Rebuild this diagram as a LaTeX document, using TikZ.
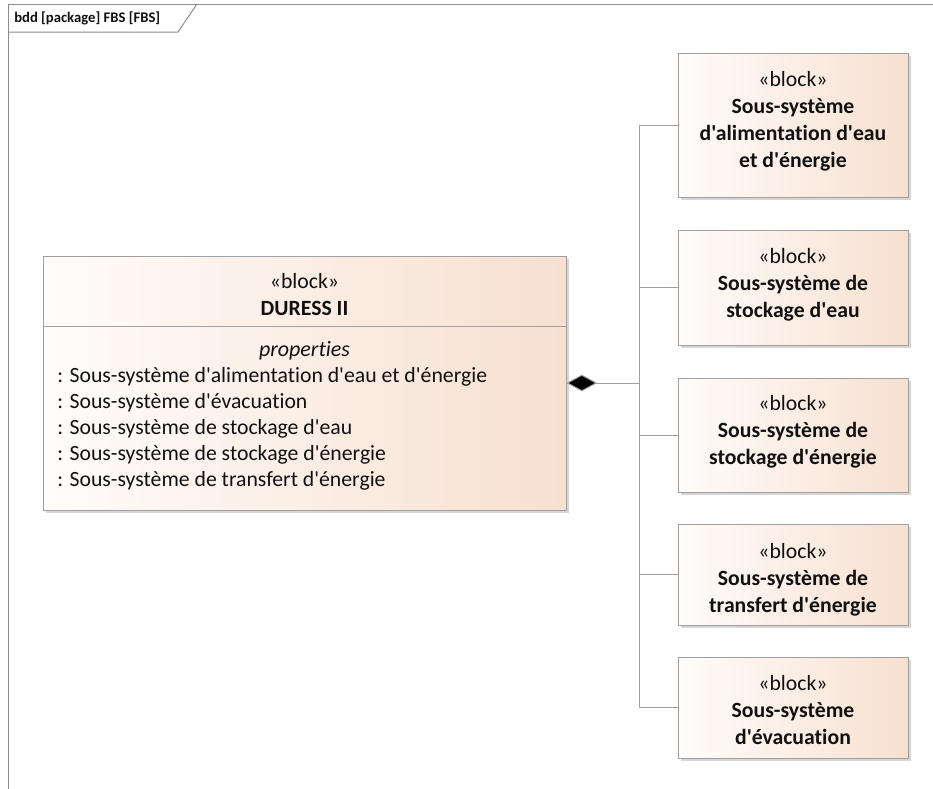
\documentclass[tikz,border=0pt]{standalone}
\usepackage{fontspec}
\setmainfont[Ligatures={TeXOff,NoCommon}]{Carlito}
\usetikzlibrary{arrows.meta,shadows}
\definecolor{blkL}{HTML}{FFFCFA}
\definecolor{blkR}{HTML}{F7E0D0}
\definecolor{edge}{HTML}{A0A0A0}
\definecolor{wire}{HTML}{A0A0A0}
\definecolor{frm}{HTML}{8C8C8C}
\definecolor{ink}{HTML}{111111}
\begin{document}
\begin{tikzpicture}[x=0.75pt,y=-0.75pt,
  blk/.style={draw=edge, line width=0.75pt, left color=blkL, right color=blkR,
    drop shadow={shadow xshift=2.5pt, shadow yshift=-2.5pt, fill=black!16, opacity=1},
    inner sep=0pt, minimum width=172.5pt},
  txt/.style={inner sep=0pt, align=center, text=ink, font=\fontsize{16.3}{20.25}\selectfont},
  wirestyle/.style={draw=wire, line width=0.75pt},
  frame/.style={draw=frm, line width=0.75pt}]
\useasboundingbox (0,0) rectangle (933,789);
% frame
\draw[frame] (8,789) -- (8,4) -- (933,4);
\draw[frame] (8,32) -- (178,32) -- (197,4);
\node[inner sep=0pt, anchor=west, text=ink, font=\fontsize{11}{13}\selectfont\bfseries] (title) at (14,18) {bdd [package] FBS [FBS]};
% main block
\node[blk, minimum width=392.25pt, minimum height=190.5pt] (main) at (304.5,383) {};
\draw[draw=edge, line width=0.75pt] (main.west |- 0,326) coordinate (dl) -- (main.east |- 0,326) coordinate (dr);
\node[txt, anchor=north] (mainhead) at (304.5,273) {«block»\\\textbf{DURESS II}};
\node[txt, anchor=north, font=\fontsize{16.5}{19.5}\selectfont\itshape] (props) at (304.5,341.5) {properties};
\node[txt, anchor=north west, align=left, font=\fontsize{16.3}{19.5}\selectfont] (plist) at (57,367) {%
: Sous-système d'alimentation d'eau et d'énergie\\
: Sous-système d'évacuation\\
: Sous-système de stockage d'eau\\
: Sous-système de stockage d'énergie\\
: Sous-système de transfert d'énergie};
% right blocks
\node[blk, minimum height=108pt] (b1) at (793,125) {};
\node[blk, minimum height=86.25pt] (b2) at (793,287.5) {};
\node[blk, minimum height=85.5pt] (b3) at (793,435) {};
\node[blk, minimum height=75.75pt] (b4) at (793,574.5) {};
\node[blk, minimum height=75.75pt] (b5) at (793,707.5) {};
\node[txt, anchor=north] (t1) at (793,71) {«block»\\\textbf{Sous-système}\\\textbf{d'alimentation d'eau}\\\textbf{et d'énergie}};
\node[txt, anchor=north] (t2) at (793,248) {«block»\\\textbf{Sous-système de}\\\textbf{stockage d'eau}};
\node[txt, anchor=north] (t3) at (793,395) {«block»\\\textbf{Sous-système de}\\\textbf{stockage d'énergie}};
\node[txt, anchor=north] (t4) at (793,543) {«block»\\\textbf{Sous-système de}\\\textbf{transfert d'énergie}};
\node[txt, anchor=north] (t5) at (793,675) {«block»\\\textbf{Sous-système}\\\textbf{d'évacuation}};
% connectors
\coordinate (hub) at (639,383);
\draw[wirestyle, {Diamond[length=23pt,width=12.5pt,fill=black]}-] (main.east) -- (hub);
\draw[wirestyle] (b1.west) -| (hub);
\draw[wirestyle] (b2.west) -| (hub);
\draw[wirestyle] (b3.west) -| (hub);
\draw[wirestyle] (b4.west) -| (hub);
\draw[wirestyle] (b5.west) -| (hub);
\end{tikzpicture}
\end{document}
